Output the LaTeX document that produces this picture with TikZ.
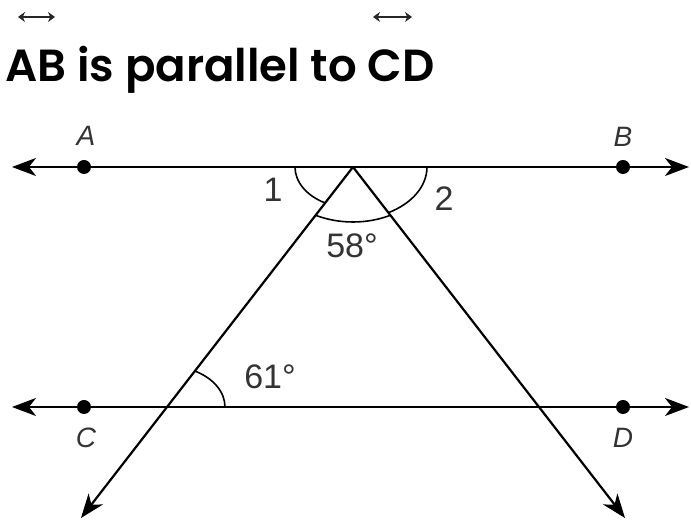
\documentclass[tikz,border=0pt]{standalone}
\usepackage{fontspec}
\newfontfamily\titlefont{Poppins}[BoldFont={Poppins SemiBold}]
\newfontfamily\labelfont{Liberation Sans}
\usetikzlibrary{arrows.meta}

\begin{document}
\begin{tikzpicture}[x=0.5pt,y=-0.5pt,
    ray/.style={line width=1.1pt, {Stealth[length=12pt,width=9pt,inset=3.5pt]}-{Stealth[length=12pt,width=9pt,inset=3.5pt]}},
    halfray/.style={line width=1.1pt, -{Stealth[length=12pt,width=9pt,inset=3.5pt]}},
    dot/.style={circle, fill=black, inner sep=0pt, minimum size=7pt},
    anglearc/.style={line width=0.8pt},
    letter/.style={font=\labelfont\itshape\fontsize{14}{14}\selectfont, text=black!80},
    number/.style={font=\labelfont\fontsize{17}{17}\selectfont, text=black!80},
    overarrow/.style={line width=1.2pt, black!85, {Stealth[length=3.5pt,width=5pt]}-{Stealth[length=3.5pt,width=5pt]}}]
\useasboundingbox (0,0) rectangle (691,522);

% title
\node[anchor=base west, inner sep=0pt, font=\titlefont\bfseries\fontsize{22.5}{22.5}\selectfont] (title) at (5,82) {AB is parallel to CD};
\draw[overarrow] (18,17) -- (55,17);
\draw[overarrow] (373,17) -- (412,17);

% the two parallel lines
\coordinate (topL) at (12,167);
\coordinate (topR) at (689,167);
\coordinate (botL) at (12,407);
\coordinate (botR) at (689,407);
\draw[ray] (topL) -- (topR);
\draw[ray] (botL) -- (botR);

% transversals
\coordinate (P) at (353,167);
\coordinate (Q) at (167,407);
\coordinate (endL) at (81,518);
\coordinate (endR) at (625,518);
\draw[halfray] (P) -- (endL);
\draw[halfray] (P) -- (endR);

% points
\node[dot] (A) at (84,167) {};
\node[dot] (B) at (623,167) {};
\node[dot] (C) at (84,407) {};
\node[dot] (D) at (623,407) {};
\node[letter] (labA) at (86,136) {A};
\node[letter] (labB) at (623,137) {B};
\node[letter] (labC) at (86,438) {C};
\node[letter] (labD) at (623,438) {D};

% angle marks
\draw[anglearc] ([shift={(180:58 and 41)}]P) arc[start angle=180, end angle=118.7, x radius=58, y radius=41];
\draw[anglearc] ([shift={(118.7:78 and 55)}]P) arc[start angle=118.7, end angle=61.3, x radius=78, y radius=55];
\draw[anglearc] ([shift={(0:74 and 52)}]P) arc[start angle=0, end angle=61.3, x radius=74, y radius=52];
\draw[anglearc] ([shift={(0:58 and 41)}]Q) arc[start angle=0, end angle=-61.3, x radius=58, y radius=41];

\node[number] (one) at (273,190) {1};
\node[number] (two) at (444,199) {2};
\node[number] (apex) at (352,246) {58°};
\node[number] (base) at (270,377) {61°};
\end{tikzpicture}
\end{document}
